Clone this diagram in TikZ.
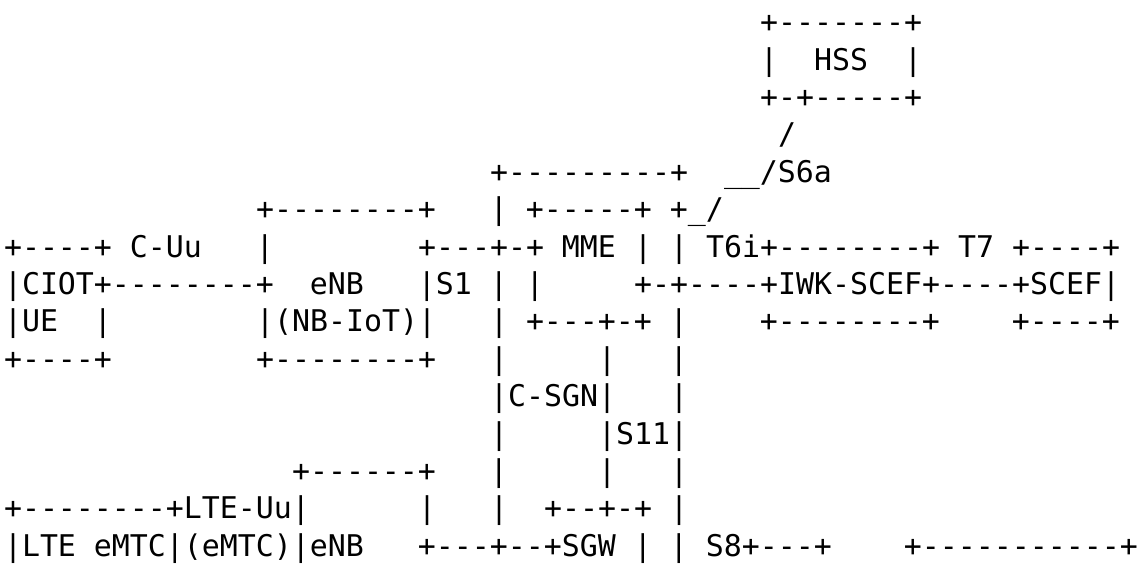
\documentclass[tikz,border=0pt]{standalone}
\usepackage{fontspec}
\setmonofont{DejaVu Sans Mono}
\newlength\cw
\setlength\cw{9pt}
\newcommand\gap[1]{\hspace*{#1\cw}}
\begin{document}
\begin{tikzpicture}[x=0.5pt,y=-0.5pt,
  asciirow/.style={anchor=base west,inner sep=0pt,outer sep=0pt,text=black,
    font=\ttfamily\fontsize{14.95pt}{18.7pt}\selectfont}]
\useasboundingbox (0,0) rectangle (1147,563);
\fill[white] (0,0) rectangle (1147,563);
% column c left edge: 4 + 18c ; row k baseline: 32.6 + 37.4(k-1)
\node[asciirow] (l1)  at (4+18*42, 32.6)  {+-------+};
\node[asciirow] (l2)  at (4+18*42, 70.0)  {|\gap{2}HSS\gap{2}|};
\node[asciirow] (l3)  at (4+18*42, 107.4) {+-+-----+};
\node[asciirow] (l4)  at (4+18*43, 144.8) {/};
\node[asciirow] (l5)  at (4+18*27, 182.2) {+---------+\gap{2}\_\_/S6a};
\node[asciirow] (l6)  at (4+18*14, 219.6) {+--------+\gap{3}|\gap{1}+-----+\gap{1}+\_/};
\node[asciirow] (l7)  at (4, 257.0) {+----+\gap{1}C-Uu\gap{3}|\gap{8}+---+-+\gap{1}MME\gap{1}|\gap{1}|\gap{1}T6i+--------+\gap{1}T7\gap{1}+----+};
\node[asciirow] (l8)  at (4, 294.4) {|CIOT+--------+\gap{2}eNB\gap{3}|S1\gap{1}|\gap{1}|\gap{5}+-+----+IWK-SCEF+----+SCEF|};
\node[asciirow] (l9)  at (4, 331.8) {|UE\gap{2}|\gap{8}|(NB-IoT)|\gap{3}|\gap{1}+---+-+\gap{1}|\gap{4}+--------+\gap{4}+----+};
\node[asciirow] (l10) at (4, 369.2) {+----+\gap{8}+--------+\gap{3}|\gap{5}|\gap{3}|};
\node[asciirow] (l11) at (4+18*27, 406.6) {|C-SGN|\gap{3}|};
\node[asciirow] (l12) at (4+18*27, 444.0) {|\gap{5}|S11|};
\node[asciirow] (l13) at (4+18*16, 481.4) {+------+\gap{3}|\gap{5}|\gap{3}|};
\node[asciirow] (l14) at (4, 518.8) {+--------+LTE-Uu|\gap{6}|\gap{3}|\gap{2}+--+-+\gap{1}|};
\node[asciirow] (l15) at (4, 556.2) {|LTE\gap{1}eMTC|(eMTC)|eNB\gap{3}+---+--+SGW\gap{1}|\gap{1}|\gap{1}S8+---+\gap{4}+-----------+};
\end{tikzpicture}
\end{document}
